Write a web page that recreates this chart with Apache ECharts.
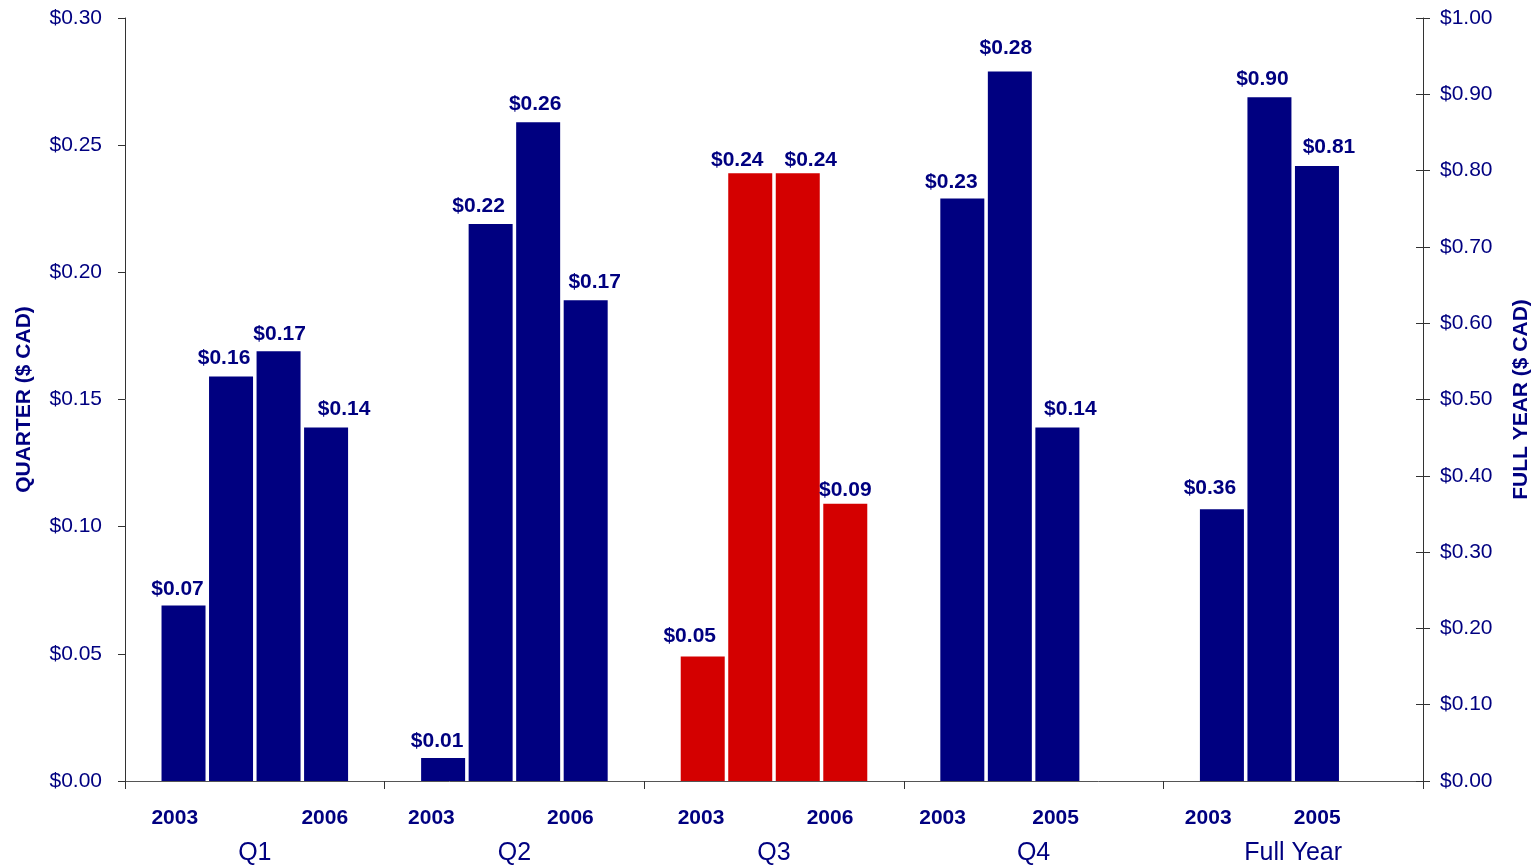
<!DOCTYPE html>
<html>
<head>
<meta charset="utf-8">
<script src="https://cdn.jsdelivr.net/npm/echarts@6/dist/echarts.min.js"></script>
<style>
html,body{margin:0;padding:0;background:#fff;}
#chart{width:1540px;height:868px;}
</style>
</head>
<body>
<div id="chart"></div>
<script>
// ---- data ----
const categories = ['Q1', 'Q2', 'Q3', 'Q4', 'Full Year'];
const years = ['2003', '2004', '2005', '2006'];

// quarterly EPS (left axis), one array per year, index = quarter
const eps2003 = [0.069, 0.009, 0.049, 0.229, null];
const eps2004 = [0.159, 0.219, 0.239, 0.279, null];
const eps2005 = [0.169, 0.259, 0.239, 0.139, null];
const eps2006 = [0.139, 0.189, 0.109, null, null];

// full-year EPS (right axis): 2003, 2004, 2005
const fullYearEps = [0.356, 0.896, 0.806];

// printed value labels
const lbl2003 = ['$0.07', '$0.01', '$0.05', '$0.23'];
const lbl2004 = ['$0.16', '$0.22', '$0.24', '$0.28'];
const lbl2005 = ['$0.17', '$0.26', '$0.24', '$0.14'];
const lbl2006 = ['$0.14', '$0.17', '$0.09'];
const fullYearLabels = ['$0.36', '$0.90', '$0.81'];

// year tick labels under each group
const yearTickFirst = ['2003', '2003', '2003', '2003', '2003'];
const yearTickLast = ['2006', '2006', '2006', '2005', '2005'];

// highlighted group
const highlightIndex = 2;

// ---- styling / layout (not data) ----
const NAVY = '#000080';
const RED = '#d40000';
const FONT = "'Liberation Sans', Arial, sans-serif";
// label nudges [dx, dy] per year, per group
const shift2003 = [[-6, 0], [-6, 0], [-13, -4], [-11, 0], [-12, -5]];
const shift2004 = [[-7, -2], [-12, -1], [-13, 4], [-4, -7], [-7, -2]];
const shift2005 = [[1, 0], [-3, -2], [13, 4], [13, -2], [12, -2]];
const shift2006 = [[18, -2], [9, -2], [0, 3], [0, 0], [0, 0]];
const yearTickOffsets = [[-80, 70], [-83, 56], [-73, 56], [-91, 22], [-85, 24]];

const rich = {
  q: { fontSize: 25, lineHeight: 40, color: NAVY, fontFamily: FONT, fontWeight: 'normal', align: 'center' }
};
yearTickOffsets.forEach(function (o, i) {
  const w = o[1] - o[0];
  const sum = o[0] + o[1];
  const yr = { width: w, align: 'center', fontSize: 21, fontWeight: 'bold', color: NAVY, fontFamily: FONT, lineHeight: 30 };
  rich['a' + i] = yr;
  rich['b' + i] = yr;
  rich['l' + i] = { width: sum > 0 ? sum : 0, align: 'center', lineHeight: 30, fontSize: 21 };
  rich['r' + i] = { width: sum < 0 ? -sum : 0, align: 'center', lineHeight: 30, fontSize: 21 };
});

function bar(name, values, labels, shifts, xIdx, yIdx) {
  return {
    name: name,
    type: 'bar',
    xAxisIndex: xIdx,
    yAxisIndex: yIdx,
    barWidth: 44,
    barGap: '8%',
    data: values.map(function (v, i) {
      if (v == null) return null;
      return {
        value: v,
        itemStyle: { color: i === highlightIndex ? RED : NAVY },
        label: { offset: shifts[i] }
      };
    }),
    label: {
      show: true,
      position: 'top',
      distance: 6,
      color: NAVY,
      fontFamily: FONT,
      fontWeight: 'bold',
      fontSize: 21,
      formatter: function (p) { return labels[p.dataIndex]; }
    },
    emphasis: { disabled: true },
    animation: false
  };
}

const fyIdx = categories.length - 1;
function fyData(k) {
  return categories.map(function (c, i) { return i === fyIdx ? fullYearEps[k] : null; });
}
function fyLabels(k) {
  return categories.map(function (c, i) { return i === fyIdx ? fullYearLabels[k] : ''; });
}

const series = [
  bar(years[0], eps2003, lbl2003, shift2003, 0, 0),
  bar(years[1], eps2004, lbl2004, shift2004, 0, 0),
  bar(years[2], eps2005, lbl2005, shift2005, 0, 0),
  bar(years[3], eps2006, lbl2006, shift2006, 0, 0),
  bar('FY ' + years[0], fyData(0), fyLabels(0), shift2003, 1, 1),
  bar('FY ' + years[1], fyData(1), fyLabels(1), shift2004, 1, 1),
  bar('FY ' + years[2], fyData(2), fyLabels(2), shift2005, 1, 1),
  bar('FY ' + years[3], categories.map(function () { return null; }), fyLabels(3), shift2006, 1, 1)
];

const chart = echarts.init(document.getElementById('chart'), null, { renderer: 'canvas' });
chart.setOption({
  backgroundColor: '#ffffff',
  animation: false,
  grid: { left: 125, right: 117, top: 18, bottom: 87, containLabel: false, outerBoundsMode: 'none' },
  xAxis: [
    {
      type: 'category',
      data: categories,
      position: 'bottom',
      axisLine: { show: true, lineStyle: { color: '#555', width: 1 } },
      axisTick: { show: true, length: 8, lineStyle: { color: '#333' } },
      axisLabel: {
        interval: 0,
        margin: 22,
        color: NAVY,
        fontFamily: FONT,
        formatter: function (value, i) {
          return '{l' + i + '| }{a' + i + '|' + yearTickFirst[i] + '}{b' + i + '|' + yearTickLast[i] + '}{r' + i + '| }\n{q|' + value + '}';
        },
        rich: rich
      },
      splitLine: { show: false }
    },
    {
      type: 'category',
      data: categories,
      position: 'bottom',
      show: false
    }
  ],
  yAxis: [
    {
      type: 'value',
      position: 'left',
      min: 0, max: 0.3, interval: 0.05,
      name: 'QUARTER ($ CAD)',
      nameLocation: 'middle',
      nameRotate: 90,
      nameGap: 90,
      nameTextStyle: { color: NAVY, fontFamily: FONT, fontWeight: 'bold', fontSize: 21 },
      axisLine: { show: true, lineStyle: { color: '#333', width: 1 } },
      axisTick: { show: true, length: 7, lineStyle: { color: '#333' } },
      splitLine: { show: false },
      axisLabel: {
        margin: 23, color: NAVY, fontFamily: FONT, fontSize: 21,
        formatter: function (v) { return '$' + v.toFixed(2); }
      }
    },
    {
      type: 'value',
      position: 'right',
      min: 0, max: 1, interval: 0.1,
      name: 'FULL YEAR ($ CAD)',
      nameLocation: 'middle',
      nameRotate: 90,
      nameGap: 88,
      nameTextStyle: { color: NAVY, fontFamily: FONT, fontWeight: 'bold', fontSize: 21 },
      axisLine: { show: true, lineStyle: { color: '#333', width: 1 } },
      axisTick: { show: true, length: 7, lineStyle: { color: '#333' } },
      splitLine: { show: false },
      axisLabel: {
        margin: 17, color: NAVY, fontFamily: FONT, fontSize: 21,
        formatter: function (v) { return '$' + v.toFixed(2); }
      }
    },
    {
      type: 'value',
      position: 'right',
      min: 0, max: 1, interval: 0.1,
      axisLine: { show: false },
      axisTick: { show: true, inside: true, length: 7, lineStyle: { color: '#333' } },
      axisLabel: { show: false },
      splitLine: { show: false }
    }
  ],
  series: series
});
</script>
</body>
</html>
